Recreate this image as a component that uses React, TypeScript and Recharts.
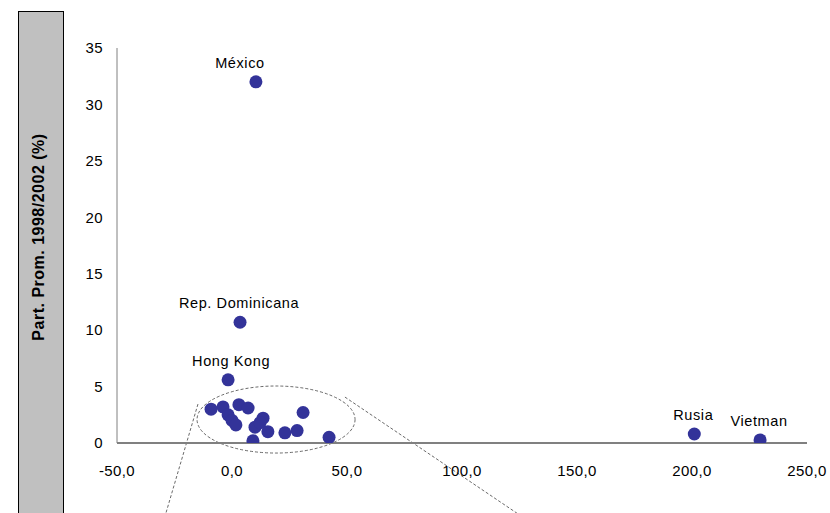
import {
  ScatterChart,
  Scatter,
  XAxis,
  YAxis,
  ReferenceArea,
  ReferenceLine,
} from "recharts";

// growth (x) vs average share 1998/2002 (y)
const names = [
  "México", "Rep. Dominicana", "Hong Kong", "Rusia", "Vietman",
  "", "", "", "", "", "", "", "", "", "", "", "", "", "", "", "",
];
const xVals = [
  10.4, 3.5, -1.7, 201, 229.6,
  -9.1, -3.9, -1.7, 0, 1.7, 3.0, 7.0, 13.5, 10.0, 12.2, 15.6, 9.1, 23.0, 28.3, 30.9, 42.2,
];
const yVals = [
  32.0, 10.7, 5.6, 0.8, 0.27,
  3.0, 3.2, 2.5, 2.0, 1.6, 3.4, 3.1, 2.2, 1.4, 1.8, 1.0, 0.2, 0.9, 1.1, 2.7, 0.5,
];
const xTicks = [-50, 0, 50, 100, 150, 200, 250];
const yTicks = [0, 5, 10, 15, 20, 25, 30, 35];

const points = xVals.map((x, i) => ({ x, y: yVals[i], name: names[i] }));

const font = "'Liberation Sans', Arial, sans-serif";

// label nudges (px) for the named points
const labelDx: Record<string, number> = { "México": -16, "Hong Kong": 3 };

const Dot = (props: any) => {
  const { cx, cy, payload } = props;
  return (
    <g>
      <circle cx={cx} cy={cy} r={6.5} fill="#333399" />
      {payload.name ? (
        <text
          x={cx + (labelDx[payload.name] ?? -1)}
          y={cy - 14}
          textAnchor="middle"
          fontSize={14.5}
          letterSpacing={0.6}
          fontFamily={font}
          fill="#000"
        >
          {payload.name}
        </text>
      ) : null}
    </g>
  );
};

const Ellipse = (props: any) => {
  const { x, y, width, height } = props;
  return (
    <ellipse
      cx={x + width / 2}
      cy={y + height / 2}
      rx={width / 2}
      ry={height / 2}
      fill="none"
      stroke="#444"
      strokeWidth={0.8}
      strokeDasharray="3 2"
    />
  );
};

const tickStyle = { fill: "#000", fontSize: 15, fontFamily: font, letterSpacing: 0.4 };

export default function App() {
  return (
    <div
      style={{
        position: "absolute",
        top: 0,
        left: 0,
        width: 830,
        height: 513,
        overflow: "hidden",
        background: "#fff",
        fontFamily: font,
      }}
    >
      {/* side title box */}
      <div
        style={{
          position: "absolute",
          left: 18,
          top: 11,
          width: 44,
          height: 520,
          background: "#c0c0c0",
          border: "1px solid #000",
        }}
      />
      <div
        style={{
          position: "absolute",
          left: 39,
          top: 237,
          transform: "translate(-50%, -50%) rotate(-90deg)",
          whiteSpace: "nowrap",
          fontWeight: "bold",
          fontSize: 16,
          letterSpacing: 0.5,
          color: "#000",
        }}
      >
        Part. Prom. 1998/2002 (%)
      </div>

      <ScatterChart
        width={830}
        height={513}
        margin={{ top: 48, right: 23, bottom: 40, left: 0 }}
        style={{ position: "absolute", top: 0, left: 0 }}
      >
        <XAxis
          type="number"
          dataKey="x"
          domain={[-50, 250]}
          ticks={xTicks}
          tickFormatter={(v: number) => v.toFixed(1).replace(".", ",")}
          tickLine={false}
          tickSize={6}
          tickMargin={16}
          axisLine={{ stroke: "#808080", strokeWidth: 2 }}
          tick={tickStyle}
          height={30}
          allowDataOverflow
        />
        <YAxis
          type="number"
          dataKey="y"
          domain={[0, 35]}
          ticks={yTicks}
          tickLine={false}
          tickSize={6}
          tickMargin={8}
          axisLine={{ stroke: "#808080", strokeWidth: 1 }}
          tick={tickStyle}
          width={117}
          allowDataOverflow
        />
        <ReferenceArea
          x1={-15.2}
          x2={53.5}
          y1={-0.89}
          y2={5.05}
          ifOverflow="visible"
          shape={<Ellipse />}
        />
        <ReferenceLine
          segment={[
            { x: -14.8, y: 3.45 },
            { x: -29, y: -6.4 },
          ]}
          ifOverflow="visible"
          stroke="#444"
          strokeWidth={0.8}
          strokeDasharray="3 2"
        />
        <ReferenceLine
          segment={[
            { x: 49.1, y: 4.07 },
            { x: 125.2, y: -6.4 },
          ]}
          ifOverflow="visible"
          stroke="#444"
          strokeWidth={0.8}
          strokeDasharray="3 2"
        />
        <Scatter data={points} shape={<Dot />} isAnimationActive={false} />
      </ScatterChart>
    </div>
  );
}
